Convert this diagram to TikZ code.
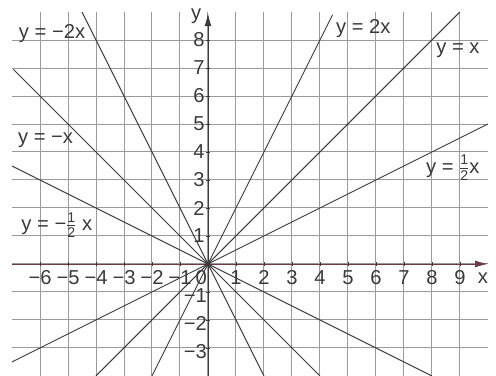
\documentclass[tikz,border=0pt]{standalone}
\usepackage{amsmath}
\usepackage{fontspec}
\setmainfont{Liberation Sans}
\usetikzlibrary{arrows.meta}
\definecolor{gridGray}{HTML}{9A9A9A}
\definecolor{inkDark}{HTML}{3A3A3A}
\definecolor{axisRed}{HTML}{6E3B45}
\newcommand{\halfc}{$\frac{\text{1}}{\text{2}}$}

\begin{document}
\begin{tikzpicture}[every node/.style={font=\fontsize{20.5}{24}\selectfont, text=inkDark}]
    \useasboundingbox (-7.43,-4) rectangle (10.29,9.43);
    % grid
    \foreach \x in {-6,...,9} \draw[gridGray, line width=1pt] (\x,-4) -- (\x,9);
    \foreach \y in {-3,...,8} \draw[gridGray, line width=1pt] (-7,\y) -- (10,\y);
    % axes
    \draw[thick, axisRed, -{Latex[length=13pt,width=7pt]}] (-7,0) -- (10,0);
    \draw[thick, inkDark, -{Latex[length=13pt,width=7pt]}] (0,-4) -- (0,8.95);
    \node (xlab) at (9.82,-0.5) {x};
    \node (ylab) at (-0.42,8.85) {y};
    \foreach \x in {-6,...,-1,1,2,...,9} {
      \draw[inkDark] (\x,-0.08) -- (\x,0.08);
      \node (xt\x) at (\x,-0.5) {\ifnum\x<0 −\the\numexpr-\x\relax\else\x\fi};
    }
    \foreach \y in {1,2,...,8} {
      \draw[inkDark] (-0.08,\y) -- (0.08,\y);
      \node[left] (yt\y) at (0,\y) {\y};
    }
    \foreach \y in {-3,...,-1} {
      \draw[inkDark] (-0.08,\y) -- (0.08,\y);
      \node[left, inner sep=1pt] (yt\y) at (0,\y-0.12) {−\the\numexpr-\y\relax};
    }
    \node[inner sep=1pt] (zero) at (-0.24,-0.47) {0};
    % lines through the origin
    \draw[inkDark, line width=1pt] (-4.5,9) -- (2,-4);
    \draw[inkDark, line width=1pt] (-2,-4) -- (4.45,8.9);
    \draw[inkDark, line width=1pt] (-4,-4) -- (9,9);
    \draw[inkDark, line width=1pt] (-6.95,6.95) -- (4,-4);
    \draw[inkDark, line width=1pt] (-7,-3.5) -- (10,5);
    \draw[inkDark, line width=1pt] (-7,3.5) -- (8,-4);
    \fill[inkDark] (0,0) circle (2.5pt);
    % labels
    \node (lblA) at (-5.57,8.23) {y = −2x};
    \node (lblB) at (-5.8,4.43) {y = −x};
    \node (lblC) at (-5.4,1.38) {y = −\halfc\ x};
    \node (lblD) at (5.55,8.4) {y = 2x};
    \node (lblE) at (8.93,7.62) {y = x};
    \node (lblF) at (8.75,3.44) {y = \halfc x};
  \end{tikzpicture}
\end{document}
